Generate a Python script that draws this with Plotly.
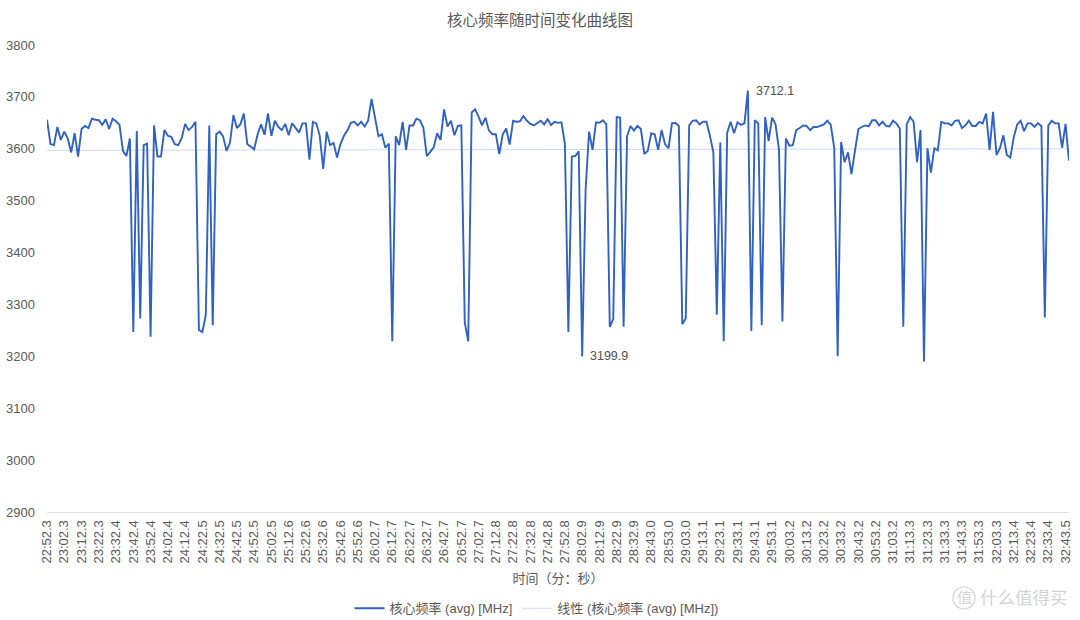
import plotly.graph_objects as go

# Core clock readings, one sample every two seconds
FREQ_MHZ = [
    3656, 3609, 3607, 3642, 3617, 3633, 3620, 3593, 3630, 3585,
    3638, 3644, 3640, 3658, 3656, 3655, 3646, 3657, 3638, 3658,
    3653, 3646, 3596, 3586, 3620, 3247, 3634, 3273, 3607, 3610,
    3238, 3645, 3585, 3585, 3636, 3625, 3623, 3609, 3607, 3620,
    3648, 3636, 3642, 3652, 3251, 3247, 3280, 3645, 3260, 3628,
    3633, 3624, 3596, 3612, 3665, 3640, 3647, 3668,
    3609, 3604, 3599, 3628, 3647, 3627, 3668, 3625, 3654, 3642,
    3636, 3648, 3626, 3649, 3641, 3631, 3649, 3649, 3579, 3652,
    3649, 3625, 3561, 3633, 3607, 3611, 3583, 3609, 3625, 3635,
    3650, 3652, 3645, 3652, 3643, 3654, 3696, 3660, 3624, 3628,
    3602, 3610, 3229, 3624, 3607, 3652, 3598, 3645, 3645, 3658,
    3655, 3641, 3586, 3594, 3603, 3630, 3617, 3676, 3643,
    3654, 3626, 3644, 3645, 3265, 3229, 3670, 3676, 3662, 3645,
    3660, 3635, 3628, 3628, 3590, 3628, 3639, 3608, 3654, 3652,
    3653, 3663, 3654, 3648, 3645, 3649, 3654, 3647, 3657, 3646,
    3652, 3650, 3651, 3609, 3247, 3585, 3586, 3595, 3199.9, 3522,
    3633, 3598, 3651, 3650, 3655, 3647, 3257, 3272, 3661, 3660,
    3257, 3624, 3644, 3635, 3644, 3638, 3590, 3596, 3630,
    3628, 3598, 3636, 3609, 3601, 3649, 3650, 3644, 3262, 3273,
    3645, 3654, 3655, 3647, 3652, 3652, 3625, 3593, 3280, 3612,
    3229, 3631, 3652, 3630, 3651, 3646, 3649, 3712.1, 3249, 3655,
    3649, 3260, 3661, 3615, 3660, 3647, 3599, 3267, 3620, 3606,
    3607, 3636, 3640, 3645, 3644, 3636, 3642, 3642, 3644, 3647,
    3654, 3646, 3602, 3200, 3613, 3574, 3593, 3551, 3596, 3638,
    3642, 3645, 3643, 3655, 3655, 3645, 3652, 3644, 3643, 3654,
    3649, 3639, 3257, 3647, 3661, 3652, 3574, 3636, 3190, 3601,
    3554, 3601, 3597, 3652, 3649, 3649, 3645, 3654, 3655, 3640,
    3645, 3654, 3644, 3644, 3652, 3649, 3668, 3598, 3671, 3588,
    3601, 3626, 3588, 3583, 3622, 3647, 3654, 3634, 3649, 3649,
    3642, 3649, 3644, 3275, 3645, 3654, 3649, 3649, 3602, 3648,
    3577,
]

# Timestamp printed under every fifth sample
TICK_LABELS = [
    "22:52.3", "23:02.3", "23:12.3", "23:22.3", "23:32.4", "23:42.4",
    "23:52.4", "24:02.4", "24:12.4", "24:22.5", "24:32.5", "24:42.5",
    "24:52.5", "25:02.5", "25:12.6", "25:22.6", "25:32.6", "25:42.6",
    "25:52.6", "26:02.7", "26:12.7", "26:22.7", "26:32.7", "26:42.7",
    "26:52.7", "27:02.7", "27:12.8", "27:22.8", "27:32.8", "27:42.8",
    "27:52.8", "28:02.9", "28:12.9", "28:22.9", "28:32.9", "28:43.0",
    "28:53.0", "29:03.0", "29:13.1", "29:23.1", "29:33.1", "29:43.1",
    "29:53.1", "30:03.2", "30:13.2", "30:23.2", "30:33.2", "30:43.2",
    "30:53.2", "31:03.2", "31:13.3", "31:23.3", "31:33.3", "31:43.3",
    "31:53.3", "32:03.3", "32:13.4", "32:23.4", "32:33.4", "32:43.5",
]
TICK_EVERY = 5

# Linear trend at the first and last sample
TREND_ENDS = [3597, 3600]

Y_TICKS = [2900, 3000, 3100, 3200, 3300, 3400, 3500, 3600, 3700, 3800]
CALLOUT_VALUES = [3712.1, 3199.9]

FONT = "Liberation Sans, Arial, Noto Sans CJK SC, sans-serif"
TEXT_GREY = "#595959"
LINE_BLUE = "#2F62C2"
TREND_BLUE = "#CBD8F0"
MARK_GREY = "#D4D4D4"

sample_idx = list(range(len(FREQ_MHZ)))
tick_pos = sample_idx[::TICK_EVERY][: len(TICK_LABELS)]

fig = go.Figure()
fig.add_trace(go.Scatter(
    x=[sample_idx[0], sample_idx[-1]], y=TREND_ENDS, mode="lines",
    name="线性 (核心频率 (avg) [MHz])",
    line=dict(color=TREND_BLUE, width=1),
))
fig.add_trace(go.Scatter(
    x=sample_idx, y=FREQ_MHZ, mode="lines",
    name="核心频率 (avg) [MHz]",
    line=dict(color=LINE_BLUE, width=1.9),
))

for value in CALLOUT_VALUES:
    fig.add_annotation(
        x=FREQ_MHZ.index(value), y=value, text=f"{value:.1f}",
        showarrow=False, xanchor="left", xshift=6, yshift=0,
        font=dict(family=FONT, size=12.5, color="#505050"),
    )

# Site mark in the lower right corner
fig.add_shape(
    type="circle", xref="paper", yref="paper", layer="above",
    x0=0.8865, x1=0.9080, y0=-0.2077, y1=-0.1606,
    line=dict(color=MARK_GREY, width=1.2),
)
fig.add_annotation(
    xref="paper", yref="paper", x=0.8973, y=-0.184,
    xanchor="center", yanchor="middle", text="值",
    showarrow=False, font=dict(family=FONT, size=15, color=MARK_GREY),
)
fig.add_annotation(
    xref="paper", yref="paper", x=1.001, y=-0.184,
    xanchor="right", yanchor="middle", text="什么值得买",
    showarrow=False, font=dict(family=FONT, size=17.5, color=MARK_GREY),
)

fig.update_layout(
    width=1080, height=620,
    margin=dict(l=47, r=11, t=45, b=108, autoexpand=False),
    paper_bgcolor="white", plot_bgcolor="white",
    font=dict(family=FONT, size=13, color=TEXT_GREY),
    title=dict(
        text="核心频率随时间变化曲线图", x=0.5, xanchor="center",
        y=0.967, yanchor="middle", font=dict(family=FONT, size=15.5, color=TEXT_GREY),
    ),
    showlegend=True,
    legend=dict(
        orientation="h", traceorder="reversed",
        x=0.296, xanchor="left", y=-0.174, yanchor="top",
        font=dict(family=FONT, size=13, color=TEXT_GREY),
        itemwidth=30, bgcolor="rgba(0,0,0,0)",
    ),
    xaxis=dict(
        range=[sample_idx[0], sample_idx[-1]],
        tickmode="array", tickvals=tick_pos, ticktext=TICK_LABELS,
        tickangle=-90, ticks="", showgrid=False, zeroline=False,
        showline=True, linecolor="#E0E0E0", linewidth=1,
        ticklabelstandoff=2,
        tickfont=dict(family=FONT, size=13, color=TEXT_GREY),
        title=dict(text="时间（分：秒）", standoff=11,
                   font=dict(family=FONT, size=13, color=TEXT_GREY)),
        automargin=False,
    ),
    yaxis=dict(
        range=[Y_TICKS[0], Y_TICKS[-1]],
        tickmode="array", tickvals=Y_TICKS, ticks="",
        showgrid=False, zeroline=False, showline=False,
        ticklabelstandoff=11,
        tickfont=dict(family=FONT, size=13, color=TEXT_GREY),
        automargin=False,
    ),
)

fig.write_html("out.html")
